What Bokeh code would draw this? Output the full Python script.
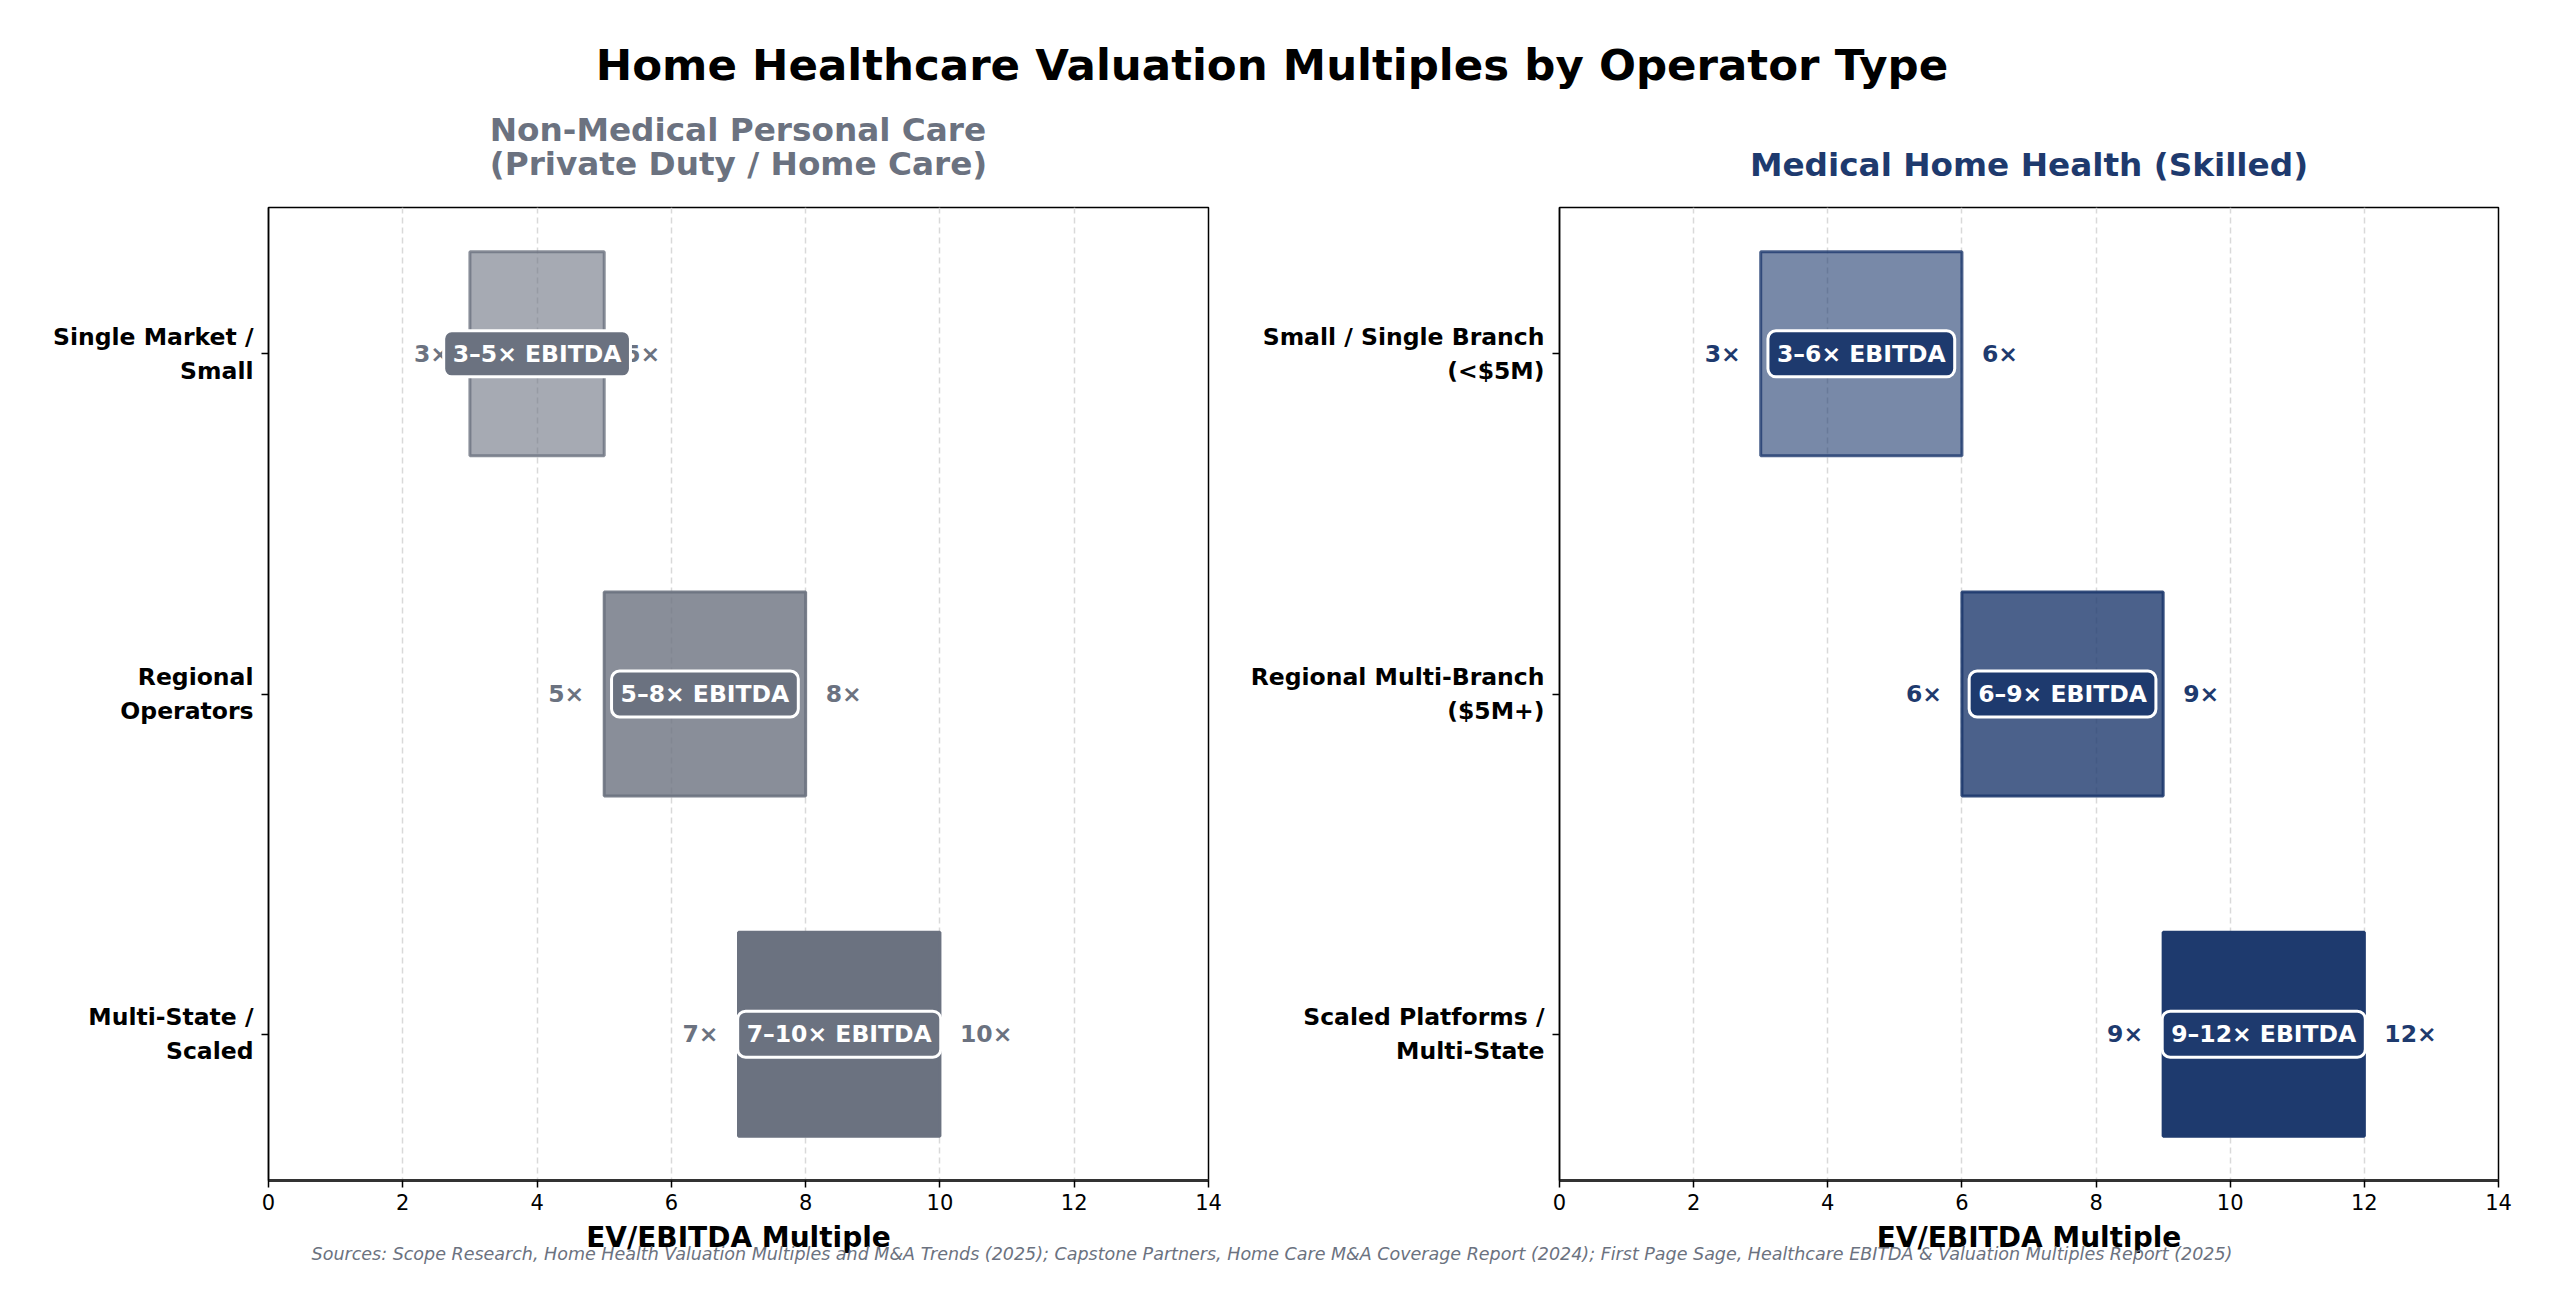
from bokeh.plotting import figure
from bokeh.models import Range1d, Title, Div, FixedTicker, ColumnDataSource
from bokeh.layouts import column, row
from bokeh.embed import file_html
from bokeh.resources import INLINE
from bokeh.core.properties import value

# --- data ---
nonmed_tiers = ["Single Market /\nSmall", "Regional\nOperators", "Multi-State /\nScaled"]
nonmed_low = [3, 5, 7]
nonmed_high = [5, 8, 10]

med_tiers = ["Small / Single Branch\n(<$5M)", "Regional Multi-Branch\n($5M+)", "Scaled Platforms /\nMulti-State"]
med_low = [3, 6, 9]
med_high = [6, 9, 12]

x_ticks = [0, 2, 4, 6, 8, 10, 12, 14]

GRAY = "#6b7280"
NAVY = "#1e3a6e"
FONT = "DejaVu Sans"
ROW_ALPHA = [0.6, 0.8, 1.0]
EDGE_ALPHA = [0.8, 0.9, 1.0]


def make_panel(subtitle, tiers, low, high, color, width, border_left, border_right):
    p = figure(width=width, height=1156, output_backend="svg", toolbar_location=None,
               x_range=Range1d(0, 14), y_range=Range1d(2.43, -0.43),
               min_border_left=border_left, min_border_right=border_right,
               min_border_top=107, min_border_bottom=60)
    p.title.visible = False
    # small spacer between the frame and the subtitle (standoff pads outward)
    p.add_layout(Title(text=" ", text_font_size="1px", standoff=21), "above")
    p.add_layout(Title(text=subtitle, text_font=FONT, text_font_size="32.7px", text_font_style="bold",
                       text_color=color, align="center", standoff=0,
                       text_line_height=0.92), "above")

    pos = list(range(len(tiers)))
    src = ColumnDataSource(dict(
        y=pos, low=low, high=high,
        mid=[(a + b) / 2 for a, b in zip(low, high)],
        lo_txt=[f"{a}×" for a in low],
        hi_txt=[f"{b}×" for b in high],
        mid_txt=[f"{a}–{b}× EBITDA" for a, b in zip(low, high)],
        fa=ROW_ALPHA, la=EDGE_ALPHA,
    ))

    p.hbar(y="y", left="low", right="high", height=0.6, source=src,
           fill_color=color, fill_alpha="fa", line_color=color, line_alpha="la", line_width=3)

    common = dict(text_font=value(FONT), text_font_size="23.5px", text_font_style="bold",
                  text_baseline="middle")
    p.text(x="low", y="y", text="lo_txt", source=src, text_align="right", x_offset=-20,
           text_color=color, **common)
    p.text(x="high", y="y", text="hi_txt", source=src, text_align="left", x_offset=20,
           text_color=color, **common)
    p.text(x="mid", y="y", text="mid_txt", source=src, text_align="center",
           text_color="white", background_fill_color=color, border_line_color="white",
           border_line_width=3, padding=9, border_radius=8, **common)

    p.outline_line_color = "black"
    p.outline_line_width = 1.5
    p.ygrid.visible = False
    p.xgrid.grid_line_color = "#d9d9d9"
    p.xgrid.grid_line_dash = "6 4"
    p.xgrid.grid_line_width = 1.5
    p.xgrid.ticker = FixedTicker(ticks=x_ticks)

    p.xaxis.ticker = FixedTicker(ticks=x_ticks)
    p.xaxis.axis_label = "EV/EBITDA Multiple"
    p.xaxis.axis_label_text_font = FONT
    p.xaxis.axis_label_text_font_size = "28px"
    p.xaxis.axis_label_text_font_style = "bold"
    p.xaxis.axis_label_text_color = "black"
    p.xaxis.axis_label_standoff = 8
    p.xaxis.major_label_text_font = FONT
    p.xaxis.major_label_text_font_size = "21px"
    p.xaxis.major_label_standoff = 6
    p.xaxis.axis_line_width = 3
    p.xaxis.axis_line_color = "#333333"

    p.yaxis.ticker = FixedTicker(ticks=pos)
    p.yaxis.major_label_overrides = {i: t for i, t in zip(pos, tiers)}
    p.yaxis.major_label_text_font = FONT
    p.yaxis.major_label_text_font_size = "23.5px"
    p.yaxis.major_label_text_font_style = "bold"
    p.yaxis.major_label_standoff = 8
    p.yaxis.axis_line_width = 1.5

    for ax in (p.xaxis, p.yaxis):
        ax.major_label_text_color = "black"
        ax.minor_tick_line_color = None
        ax.major_tick_out = 7
        ax.major_tick_in = 0
        ax.major_tick_line_width = 1.5
        ax.major_tick_line_color = "black"
    return p


left = make_panel("Non-Medical Personal Care\n(Private Duty / Home Care)",
                  nonmed_tiers, nonmed_low, nonmed_high, GRAY, 1238, 268, 30)
right = make_panel("Medical Home Health (Skilled)",
                   med_tiers, med_low, med_high, NAVY, 1280, 321, 20)

title = Div(text="Home Healthcare Valuation Multiples by Operator Type", width=2544, height=100,
            margin=0,
            styles={"font-family": FONT, "font-weight": "bold", "font-size": "43.5px",
                    "text-align": "center", "padding-top": "34px", "box-sizing": "border-box",
                    "color": "black"})
sources = Div(text="Sources: Scope Research, Home Health Valuation Multiples and M&amp;A Trends (2025); "
                   "Capstone Partners, Home Care M&amp;A Coverage Report (2024); First Page Sage, "
                   "Healthcare EBITDA &amp; Valuation Multiples Report (2025)",
              width=2544, height=30, margin=(-14, 0, 0, 0),
              styles={"font-family": FONT, "font-style": "italic", "font-size": "17.5px",
                      "text-align": "center", "color": GRAY})

layout = column(title, row(left, right), sources)
open("out.html", "w").write(file_html(layout, INLINE))
